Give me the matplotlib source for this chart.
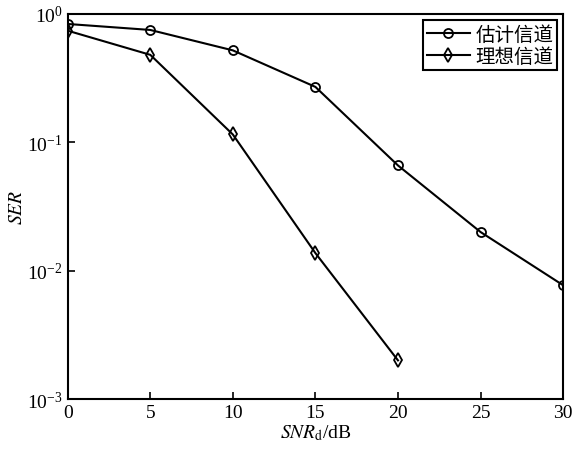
import matplotlib
matplotlib.use("Agg")
import matplotlib.pyplot as plt

plt.rcParams['font.family'] = ['Liberation Serif', 'Noto Sans CJK SC']
plt.rcParams['mathtext.fontset'] = 'stix'

# SNR values (dB)
snr_est = [0, 5, 10, 15, 20, 25, 30]
snr_ideal = [0, 5, 10, 15, 20]

# symbol error rates
ser_est = [0.835, 0.75, 0.52, 0.27, 0.066, 0.020, 0.0077]
ser_ideal = [0.74, 0.48, 0.115, 0.0137, 0.0020]

labels = ['估计信道', '理想信道']

fig = plt.figure(figsize=(5.74, 4.52), dpi=100)
ax = fig.add_axes([0.118, 0.115, 0.863, 0.852])

ax.semilogy(snr_est, ser_est, color='black', lw=1.5, marker='o', ms=6.5,
            mfc='none', mew=1.3, label=labels[0])
ax.semilogy(snr_ideal, ser_ideal, color='black', lw=1.5, marker='d', ms=7.5,
            mfc='none', mew=1.3, label=labels[1])

ax.set_xlim(0, 30)
ax.set_ylim(1e-3, 1)
ax.set_xticks([0, 5, 10, 15, 20, 25, 30])
ax.set_yticks([1e-3, 1e-2, 1e-1, 1])
ax.minorticks_off()
ax.tick_params(direction='in', length=5, width=1.2, labelsize=14)
for s in ax.spines.values():
    s.set_linewidth(1.5)

ax.set_xlabel(r'$\mathit{SNR}_{\mathrm{d}}$/dB', fontsize=14, labelpad=1)
ax.set_ylabel(r'$\mathit{SER}$', fontsize=14, labelpad=1)

leg = ax.legend(loc='upper right', fancybox=False,
                edgecolor='black', framealpha=1, borderpad=0.2,
                handlelength=2.2, handletextpad=0.3, labelspacing=0.05,
                borderaxespad=0.3, prop={'family': ['Noto Sans CJK SC'], 'size': 14})
leg.get_frame().set_linewidth(1.5)

fig.savefig('out.png', dpi=100)
